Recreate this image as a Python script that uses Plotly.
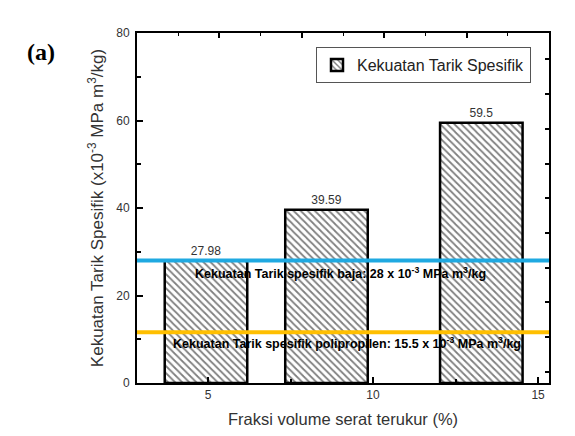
import plotly.graph_objects as go

# data
fractions = [4.94, 8.59, 13.28]
strength = [27.98, 39.59, 59.5]
labels = ["27.98", "39.59", "59.5"]
ref_vals = [28.0, 11.6]
ref_colors = ["#1FA9E1", "#FFBF00"]
ref_texts = [
    "Kekuatan Tarik spesifik baja: 28 x 10<sup>-3</sup> MPa m<sup>3</sup>/kg",
    "Kekuatan Tarik spesifik polipropilen: 15.5 x 10<sup>-3</sup> MPa m<sup>3</sup>/kg",
]
ref_text_x = [340, 347]
ref_text_y = [273, 343]

W, H = 575, 436
L, R, T, B = 137, 549, 33, 383
FONT = "Arial, Liberation Sans, sans-serif"

fig = go.Figure()
fig.add_trace(go.Bar(
    x=fractions, y=strength, width=2.5,
    name="Kekuatan Tarik Spesifik",
    text=labels, textposition="outside",
    textfont=dict(family=FONT, size=12, color="#333333"),
    cliponaxis=False,
    marker=dict(color="white",
                line=dict(color="black", width=2.5),
                pattern=dict(shape="\\", fgcolor="black", bgcolor="white",
                             size=5, solidity=0.35)),
))
# dummy traces to show top and right axes
fig.add_trace(go.Scatter(x=[0], y=[0], xaxis="x2", yaxis="y", mode="markers",
                         marker=dict(opacity=0), showlegend=False, hoverinfo="skip"))
fig.add_trace(go.Scatter(x=[fractions[0]], y=[0], xaxis="x", yaxis="y2", mode="markers",
                         marker=dict(opacity=0), showlegend=False, hoverinfo="skip"))

shapes = []
for v, c in zip(ref_vals, ref_colors):
    shapes.append(dict(type="line", xref="paper", x0=0, x1=1, yref="y", y0=v, y1=v,
                       line=dict(color=c, width=4), layer="above"))

ann = []
for t, xp, yp in zip(ref_texts, ref_text_x, ref_text_y):
    ann.append(dict(text="<b>" + t + "</b>", xref="paper", yref="paper",
                    x=(xp - L) / (R - L), y=(B - yp) / (B - T),
                    showarrow=False, xanchor="center", yanchor="middle",
                    font=dict(family=FONT, size=12.5, color="black")))
ann.append(dict(text="<b>(a)</b>", xref="paper", yref="paper",
                x=(41 - L) / (R - L), y=(B - 52) / (B - T),
                showarrow=False, xanchor="center", yanchor="middle",
                font=dict(family="Liberation Serif, Times New Roman, serif", size=24, color="black")))

axis_font = dict(family=FONT, size=12, color="#333333")
fig.update_layout(
    width=W, height=H,
    margin=dict(l=L, r=W - R, t=T, b=H - B, autoexpand=False),
    paper_bgcolor="white", plot_bgcolor="white",
    shapes=shapes, annotations=ann,
    showlegend=True,
    legend=dict(x=(316 - L) / (R - L), y=(B - 47) / (B - T), xanchor="left", yanchor="top",
                bordercolor="#555555", borderwidth=1, bgcolor="white",
                font=dict(family=FONT, size=16, color="#222222"),
                itemwidth=30, tracegroupgap=0),
    xaxis=dict(range=[2.85, 15.33], tickvals=[5, 10, 15], ticks="inside", ticklen=6,
               tickwidth=2, tickcolor="black", showline=True, linecolor="black", linewidth=2,
               showgrid=False, zeroline=False, tickfont=axis_font, automargin=False,
               minor=dict(tickvals=[7.5, 12.5], ticks="inside", ticklen=4, tickwidth=1.5,
                          tickcolor="black"),
               title=dict(text="Fraksi volume serat terukur (%)", standoff=12,
                          font=dict(family=FONT, size=16.5, color="#333333"))),
    xaxis2=dict(overlaying="x", side="top", range=[0, 5], tickvals=[1, 2, 3, 4],
                showticklabels=False, ticks="inside", ticklen=5, tickwidth=1.5, tickcolor="black",
                showline=True, linecolor="black", linewidth=2, showgrid=False, zeroline=False,
                automargin=False,
                minor=dict(tickvals=[0.5, 1.5, 2.5, 3.5, 4.5], ticks="inside", ticklen=3,
                           tickwidth=1, tickcolor="black")),
    yaxis=dict(range=[0, 80], tickvals=[0, 20, 40, 60, 80], ticks="inside", ticklen=6,
               tickwidth=2, tickcolor="black", showline=True, linecolor="black", linewidth=2,
               showgrid=False, zeroline=False, tickfont=axis_font, ticklabelstandoff=3,
               automargin=False,
               minor=dict(tickvals=[10, 30, 50, 70], ticks="inside", ticklen=4, tickwidth=1.5,
                          tickcolor="black"),
               title=dict(text="Kekuatan Tarik Spesifik (x10<sup>-3</sup> MPa m<sup>3</sup>/kg)",
                          standoff=8,
                          font=dict(family=FONT, size=17, color="#333333"))),
    yaxis2=dict(overlaying="y", side="right", range=[-0.32, 9.76],
                tickvals=list(range(10)), showticklabels=False, ticks="inside", ticklen=4,
                tickwidth=1.5, tickcolor="black", showline=True, linecolor="black", linewidth=2,
                showgrid=False, zeroline=False, automargin=False),
)
fig.write_html("out.html")
